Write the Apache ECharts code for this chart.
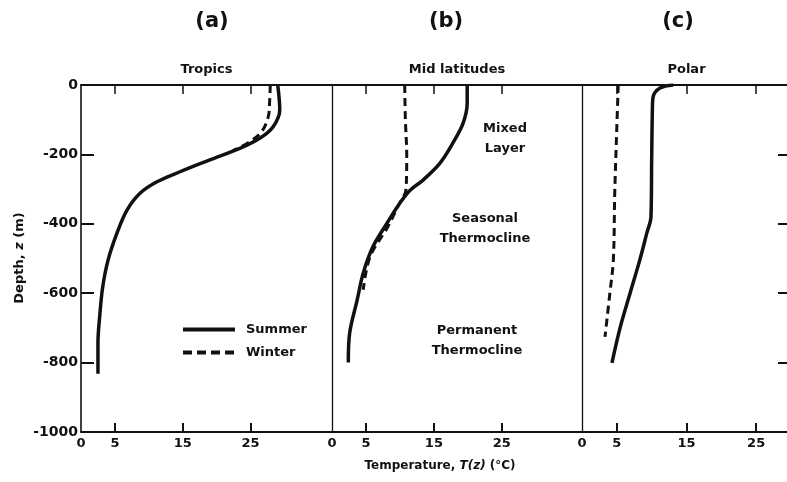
<!DOCTYPE html>
<html>
<head>
<meta charset="utf-8">
<script src="https://cdn.jsdelivr.net/npm/echarts@6/dist/echarts.min.js"></script>
<style>html,body{margin:0;padding:0;background:#fff;overflow:hidden}#c{width:787px;height:482px}</style>
</head>
<body>
<div id="c"></div>
<script>
// ---- data ----
const panelLetters = ['(a)', '(b)', '(c)'];
const panelTitles = ['Tropics', 'Mid latitudes', 'Polar'];
const tempTickLabels = [0, 5, 15, 25];
const tempTickMarks = [5, 15, 25];
const depthTicks = [0, -200, -400, -600, -800, -1000];
const depthTickLabels = ['0', '-200', '-400', '-600', '-800', '-1000'];
const seriesNames = ['Summer', 'Winter'];

const tropicsSummerT = [29.0, 29.3, 28.3, 26.4, 23.5, 19.0, 14.6, 11.2, 8.7, 6.8, 5.3, 4.0, 3.2, 2.8, 2.5, 2.5];
const tropicsSummerZ = [0, -72, -121, -153, -182, -216, -250, -279, -312, -360, -427, -504, -582, -657, -744, -832];
const tropicsWinterT = [27.9, 27.8, 27.6, 26.6, 24.6, 22.4];
const tropicsWinterZ = [0, -50, -92, -135, -167, -189];

const midSummerT = [19.9, 19.9, 19.3, 17.8, 15.9, 13.4, 11.5, 10.0, 8.1, 6.0, 4.6, 3.7, 2.6, 2.4];
const midSummerZ = [0, -52, -110, -167, -225, -274, -303, -340, -398, -467, -542, -620, -715, -800];
const midWinterT = [10.7, 10.8, 11.0, 10.9, 9.7, 8.2, 5.6, 4.6];
const midWinterZ = [0, -100, -200, -300, -350, -409, -495, -590];

const polarSummerT = [13.1, 11.2, 10.2, 10.1, 10.0, 9.9, 9.3, 8.3, 6.9, 5.5, 4.3];
const polarSummerZ = [0, -9, -35, -72, -216, -380, -427, -504, -600, -697, -801];
const polarWinterT = [5.2, 5.0, 4.7, 4.5, 4.0, 3.3];
const polarWinterZ = [0, -121, -311, -504, -600, -726];

const annotations = [['Mixed', 'Layer'], ['Seasonal', 'Thermocline'], ['Permanent', 'Thermocline']];
const xAxisTitle = 'Temperature, ';
const yAxisTitle = 'Depth, ';

// ---- build ----
const zip = (a, b) => a.map((v, i) => [v, b[i]]);
const FONT = '"DejaVu Sans", "Liberation Sans", sans-serif';
const ink = '#111';

const grids = [
  { left: 81, top: 85, width: 251, height: 347 },
  { left: 332, top: 85, width: 250, height: 347 },
  { left: 582, top: 85, width: 209, height: 347 }
];
const xMax = [37, 36.8, 30];

const xAxes = [], yAxes = [], series = [];
grids.forEach((g, i) => {
  xAxes.push({
    type: 'value', gridIndex: i, position: 'bottom', min: 0, max: xMax[i],
    axisLine: { show: true, onZero: false, lineStyle: { color: ink, width: 2 } },
    axisTick: { show: true, inside: true, length: 9, customValues: tempTickMarks, lineStyle: { color: ink, width: 2 } },
    axisLabel: { show: true, customValues: tempTickLabels, margin: 5, color: ink, fontFamily: FONT, fontWeight: 'bold', fontSize: 13 },
    splitLine: { show: false }
  });
  xAxes.push({
    type: 'value', gridIndex: i, position: 'top', min: 0, max: xMax[i],
    axisLine: { show: true, onZero: false, lineStyle: { color: ink, width: 2 } },
    axisTick: { show: true, inside: true, length: 9, customValues: tempTickMarks, lineStyle: { color: ink, width: 1.5 } },
    axisLabel: { show: false },
    splitLine: { show: false },
    name: panelTitles[i], nameLocation: 'middle', nameGap: 9,
    nameTextStyle: { color: ink, fontFamily: FONT, fontWeight: 'bold', fontSize: 13 }
  });
  yAxes.push({
    type: 'value', gridIndex: i, position: 'left', min: -1000, max: 0, interval: 200,
    axisLine: { show: true, onZero: false, lineStyle: { color: ink, width: i === 0 ? 1.6 : 1.3 } },
    axisTick: { show: i === 0, inside: true, length: 13, customValues: [-200, -400, -600, -800], lineStyle: { color: ink, width: 2 } },
    axisLabel: {
      show: i === 0, margin: 3, color: ink, fontFamily: FONT, fontWeight: 'bold', fontSize: 14,
      formatter: v => depthTickLabels[depthTicks.indexOf(v)] ?? ''
    },
    splitLine: { show: false }
  });
  if (i === 2) {
    yAxes.push({
      type: 'value', gridIndex: i, position: 'right', min: -1000, max: 0, interval: 200,
      axisLine: { show: true, onZero: false, lineStyle: { color: ink, width: 2 } },
      axisTick: { show: true, inside: true, length: 13, customValues: [-200, -400, -600, -800], lineStyle: { color: ink, width: 2 } },
      axisLabel: { show: false }, splitLine: { show: false }
    });
  }
});

const panelData = [
  [zip(tropicsSummerT, tropicsSummerZ), zip(tropicsWinterT, tropicsWinterZ)],
  [zip(midSummerT, midSummerZ), zip(midWinterT, midWinterZ)],
  [zip(polarSummerT, polarSummerZ), zip(polarWinterT, polarWinterZ)]
];
const yIndexOf = [0, 1, 2];
panelData.forEach((pair, i) => {
  pair.forEach((data, k) => {
    series.push({
      type: 'line', name: seriesNames[k], xAxisIndex: i * 2, yAxisIndex: yIndexOf[i],
      data, smooth: 0.35, symbol: 'none', showSymbol: false, silent: true,
      lineStyle: { color: ink, width: k === 0 ? 3.5 : 3, type: k === 0 ? 'solid' : [8, 5] },
      itemStyle: { color: ink }
    });
  });
});

const txt = (x, y, text, size) => ({
  type: 'text', x, y,
  style: { text, fill: ink, font: 'bold ' + size + 'px ' + FONT, align: 'center', verticalAlign: 'middle' }
});

const letterX = [212, 446, 678];
const graphic = [];
panelLetters.forEach((l, i) => graphic.push(txt(letterX[i], 22, l, 21)));
const annPos = [[505, 129], [485, 219], [477, 331]];
annotations.forEach((a, i) => {
  graphic.push(txt(annPos[i][0], annPos[i][1], a[0], 13));
  graphic.push(txt(annPos[i][0], annPos[i][1] + 20, a[1], 13));
});
const richStyle = size => ({
  n: { fontFamily: FONT, fontWeight: 'bold', fontSize: size, fill: ink },
  i: { fontFamily: FONT, fontWeight: 'bold', fontStyle: 'italic', fontSize: size, fill: ink }
});
graphic.push({
  type: 'text', x: 440, y: 466,
  style: { text: '{n|' + xAxisTitle + '}{i|T(z)}{n| (°C)}', fill: ink, align: 'center', verticalAlign: 'middle', rich: richStyle(12) }
});
graphic.push({
  type: 'text', x: 20, y: 258, rotation: Math.PI / 2,
  style: { text: '{n|' + yAxisTitle + '}{i|z}{n| (m)}', fill: ink, align: 'center', verticalAlign: 'middle', rich: richStyle(13) }
});

const chart = echarts.init(document.getElementById('c'), null, { renderer: 'canvas' });
chart.setOption({
  animation: false,
  backgroundColor: '#fff',
  grid: grids.map(g => Object.assign({ containLabel: false, outerBoundsMode: 'none' }, g)),
  xAxis: xAxes,
  yAxis: yAxes,
  legend: {
    data: [
      { name: seriesNames[0], lineStyle: { width: 4, type: 'solid', color: ink } },
      { name: seriesNames[1], lineStyle: { width: 4, type: [9, 5], color: ink } }
    ],
    orient: 'vertical', left: 176, top: 318, itemGap: 10,
    itemWidth: 52, itemHeight: 14, selectedMode: false,
    itemStyle: { opacity: 0 },
    textStyle: { color: ink, fontFamily: FONT, fontWeight: 'bold', fontSize: 13, padding: [0, 0, 0, 6] }
  },
  series,
  graphic
});
</script>
</body>
</html>
